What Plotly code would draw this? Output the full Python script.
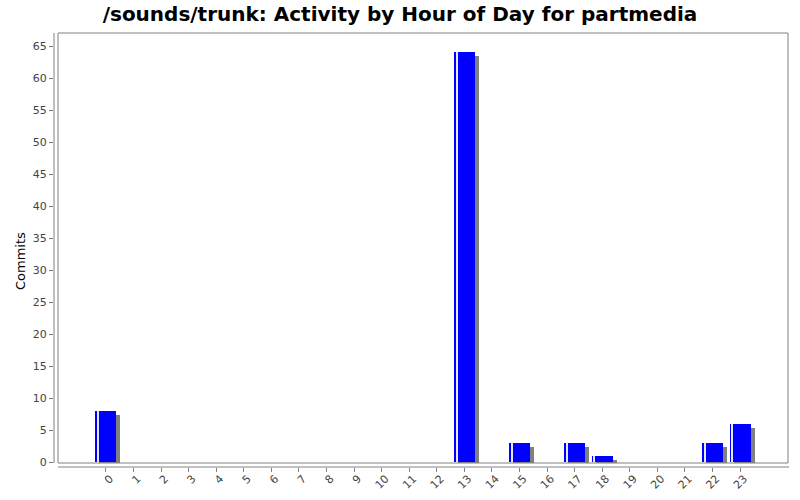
import plotly.graph_objects as go

# commits per hour of day
hours = list(range(24))
hour_labels = [str(h) for h in hours]
commits = [8, 0, 0, 0, 0, 0, 0, 0, 0, 0, 0, 0, 0, 64, 0, 3, 0, 3, 1, 0, 0, 0, 3, 6]

PX_X = 27.57   # pixels per category
PX_Y = 6.4     # pixels per commit
bar_w = 21 / PX_X
shadow_dx = 4 / PX_X
shadow_dy = 4 / PX_Y
floor = -1 / PX_Y  # bottom edge of the plot border

fig = go.Figure()

# drop shadow, shifted right and down, clipped at the border
fig.add_trace(go.Bar(
    x=[h + shadow_dx for h in hours],
    y=[c - shadow_dy - floor if c > 0 else 0 for c in commits],
    base=[floor if c > 0 else 0 for c in commits],
    width=bar_w, marker=dict(color="#808080", line_width=0),
    hoverinfo="skip", showlegend=False,
))
fig.add_trace(go.Bar(
    x=hours, y=commits, width=bar_w,
    marker=dict(color="#0000ff", line_width=0),
    showlegend=False, name="Commits",
))
# white highlight stripe near left edge
fig.add_trace(go.Bar(
    x=[h - 7.7 / PX_X for h in hours], y=commits, width=2 / PX_X,
    marker=dict(color="rgba(255,255,255,0.9)", line_width=0),
    hoverinfo="skip", showlegend=False,
))

W, H = 800, 500
ml, mr, mt, mb = 54, 12, 33, 33
pw, ph = W - ml - mr, H - mt - mb
gray = "#808080"
txt = "#444444"

fig.update_layout(
    width=W, height=H,
    margin=dict(l=ml, r=mr, t=mt, b=mb, autoexpand=False),
    paper_bgcolor="white", plot_bgcolor="white",
    barmode="overlay", bargap=0,
    font=dict(family="DejaVu Sans", color=txt, size=11),
    title=dict(
        text="<b>/sounds/trunk: Activity by Hour of Day for partmedia</b>",
        x=0.5, xanchor="center", y=1 - 14 / H, yanchor="middle",
        font=dict(family="DejaVu Sans", size=20, color="black"),
    ),
    xaxis=dict(
        range=[-(106 - ml) / PX_X, 23 + (788 - 740) / PX_X],
        tickmode="array", tickvals=hours, ticktext=hour_labels,
        tickangle=-45, ticks="outside", ticklen=4, tickcolor=gray,
        ticklabelstandoff=-4, ticklabelshift=4,
        showgrid=False, zeroline=False, showline=False, automargin=False,
        tickfont=dict(size=11, color=txt),
    ),
    yaxis=dict(
        range=[-5 / PX_Y, (462 - 33) / PX_Y],
        tickmode="linear", tick0=0, dtick=5,
        ticks="outside", ticklen=4, tickcolor=gray,
        showgrid=False, zeroline=False, showline=False, automargin=False,
        tickfont=dict(size=11, color=txt),
    ),
    annotations=[dict(
        text="Commits", textangle=-90, showarrow=False,
        xref="paper", yref="paper", x=(20 - ml) / pw, y=(467 - 261) / ph,
        xanchor="center", yanchor="middle",
        font=dict(family="DejaVu Sans", size=13, color="black"),
    )],
    shapes=[
        # plot border
        dict(type="rect", xref="paper", yref="paper",
             x0=4 / pw, x1=1, y0=4 / ph, y1=1,
             line=dict(color=gray, width=1)),
        # y axis line
        dict(type="line", xref="paper", yref="paper",
             x0=0, x1=0, y0=4 / ph, y1=1, line=dict(color=gray, width=1)),
        # x axis line
        dict(type="line", xref="paper", yref="paper",
             x0=4 / pw, x1=1 + 1 / pw, y0=0, y1=0, line=dict(color=gray, width=1)),
    ],
)

# drop the browser's default body margin so the figure sits at 0,0
fig.write_html("out.html", config={"displayModeBar": False},
               post_script="document.body.style.margin='0';")
